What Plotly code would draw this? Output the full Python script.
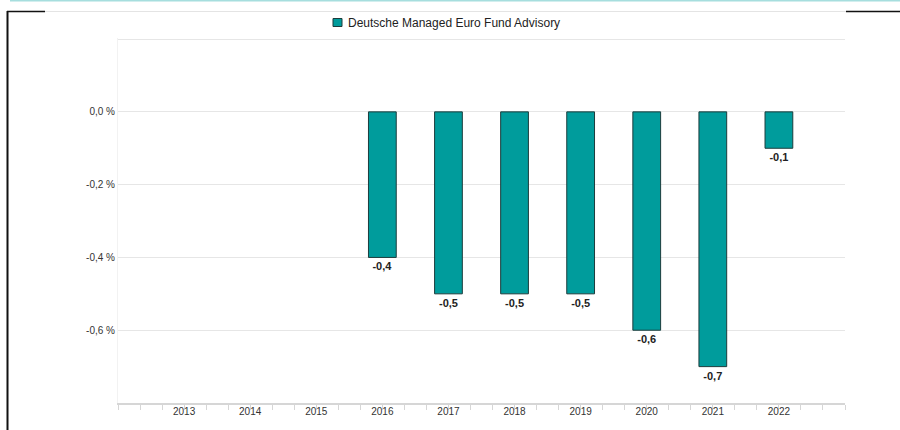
import plotly.graph_objects as go

# Annual performance of the fund (percent), None where no data exists
years = [2013, 2014, 2015, 2016, 2017, 2018, 2019, 2020, 2021, 2022]
returns = [None, None, None, -0.4, -0.5, -0.5, -0.5, -0.6, -0.7, -0.1]
series_name = "Deutsche Managed Euro Fund Advisory"

y_ticks = [0.2, 0.0, -0.2, -0.4, -0.6, -0.8]
y_labels = ["", "0,0 %", "-0,2 %", "-0,4 %", "-0,6 %", ""]

BAR_COLOR = "#009c9c"
BAR_EDGE = "#1c3c3c"
FONT = "Liberation Sans, Arial, sans-serif"

W, H = 900, 430
L, R, T, B = 118, 55, 38, 27
PW, PH = W - L - R, H - T - B

bar_text = [None if v is None else f"{v:.1f}".replace(".", ",") for v in returns]

fig = go.Figure()
fig.add_trace(go.Bar(
    x=years,
    y=returns,
    name=series_name,
    width=0.42,
    marker=dict(color=BAR_COLOR, line=dict(color=BAR_EDGE, width=1)),
    text=bar_text,
    textposition="outside",
    cliponaxis=False,
    textfont=dict(family=FONT, size=11, color="#222222", weight="bold"),
    hoverinfo="skip",
    showlegend=False,
))

# minor tick marks sit one third of a year either side of each label
minor_vals = []
for yr in range(years[0] - 1, years[-1] + 2):
    minor_vals += [yr, yr + 1 / 3, yr + 2 / 3]
minor_vals = [v for v in minor_vals if v <= years[-1] + 1 + 1e-9]


def px_x(px):
    return (px - L) / PW


def px_y(py):
    return (H - B - py) / PH


def line(x0, y0, x1, y1, color, width):
    return dict(type="line", xref="paper", yref="paper",
                x0=px_x(x0), y0=px_y(y0), x1=px_x(x1), y1=px_y(y1),
                line=dict(color=color, width=width), layer="above")


shapes = [
    # page frame around the chart
    line(10, 0.5, 900, 0.5, "#a6dede", 2),
    line(45, 11.5, 846, 11.5, "#e4e4e4", 1),
    line(7, 11.5, 45, 11.5, "#111111", 1.5),
    line(846, 11.5, 900, 11.5, "#111111", 1.5),
    line(7.5, 11, 7.5, 430, "#111111", 2),
    # legend swatch
    dict(type="rect", xref="paper", yref="paper",
         x0=px_x(333), x1=px_x(342), y0=px_y(26.5), y1=px_y(18.5),
         fillcolor=BAR_COLOR, line=dict(color=BAR_EDGE, width=1), layer="above"),
]

annotations = [
    dict(text=series_name, xref="paper", yref="paper",
         x=px_x(346), y=px_y(22.5), xanchor="left", yanchor="middle",
         showarrow=False, font=dict(family=FONT, size=12, color="#222222")),
]

fig.update_layout(
    width=W, height=H,
    margin=dict(l=L, r=R, t=T, b=B, pad=0, autoexpand=False),
    paper_bgcolor="white",
    plot_bgcolor="white",
    font=dict(family=FONT, size=10, color="#333333"),
    showlegend=False,
    shapes=shapes,
    annotations=annotations,
    xaxis=dict(
        range=[years[0] - 1, years[-1] + 1],
        tickmode="array",
        tickvals=years,
        ticktext=[str(y) for y in years],
        ticks="",
        showgrid=False,
        showline=True,
        linecolor="#d6d6d6",
        linewidth=2,
        zeroline=False,
        ticklabelstandoff=-2,
        tickfont=dict(size=10, color="#333333"),
        minor=dict(tickmode="array", tickvals=minor_vals, ticks="outside",
                   ticklen=5, tickcolor="#d6d6d6", tickwidth=1, showgrid=False),
        fixedrange=True,
    ),
    yaxis=dict(
        range=[-0.8, 0.203],
        tickmode="array",
        tickvals=y_ticks,
        ticktext=y_labels,
        showgrid=True,
        gridcolor="#e6e6e6",
        gridwidth=1,
        zeroline=False,
        showline=True,
        linecolor="#f2f2f2",
        ticks="",
        ticklabelstandoff=0,
        tickfont=dict(size=10, color="#333333"),
        fixedrange=True,
    ),
)

fig.write_html("out.html")
